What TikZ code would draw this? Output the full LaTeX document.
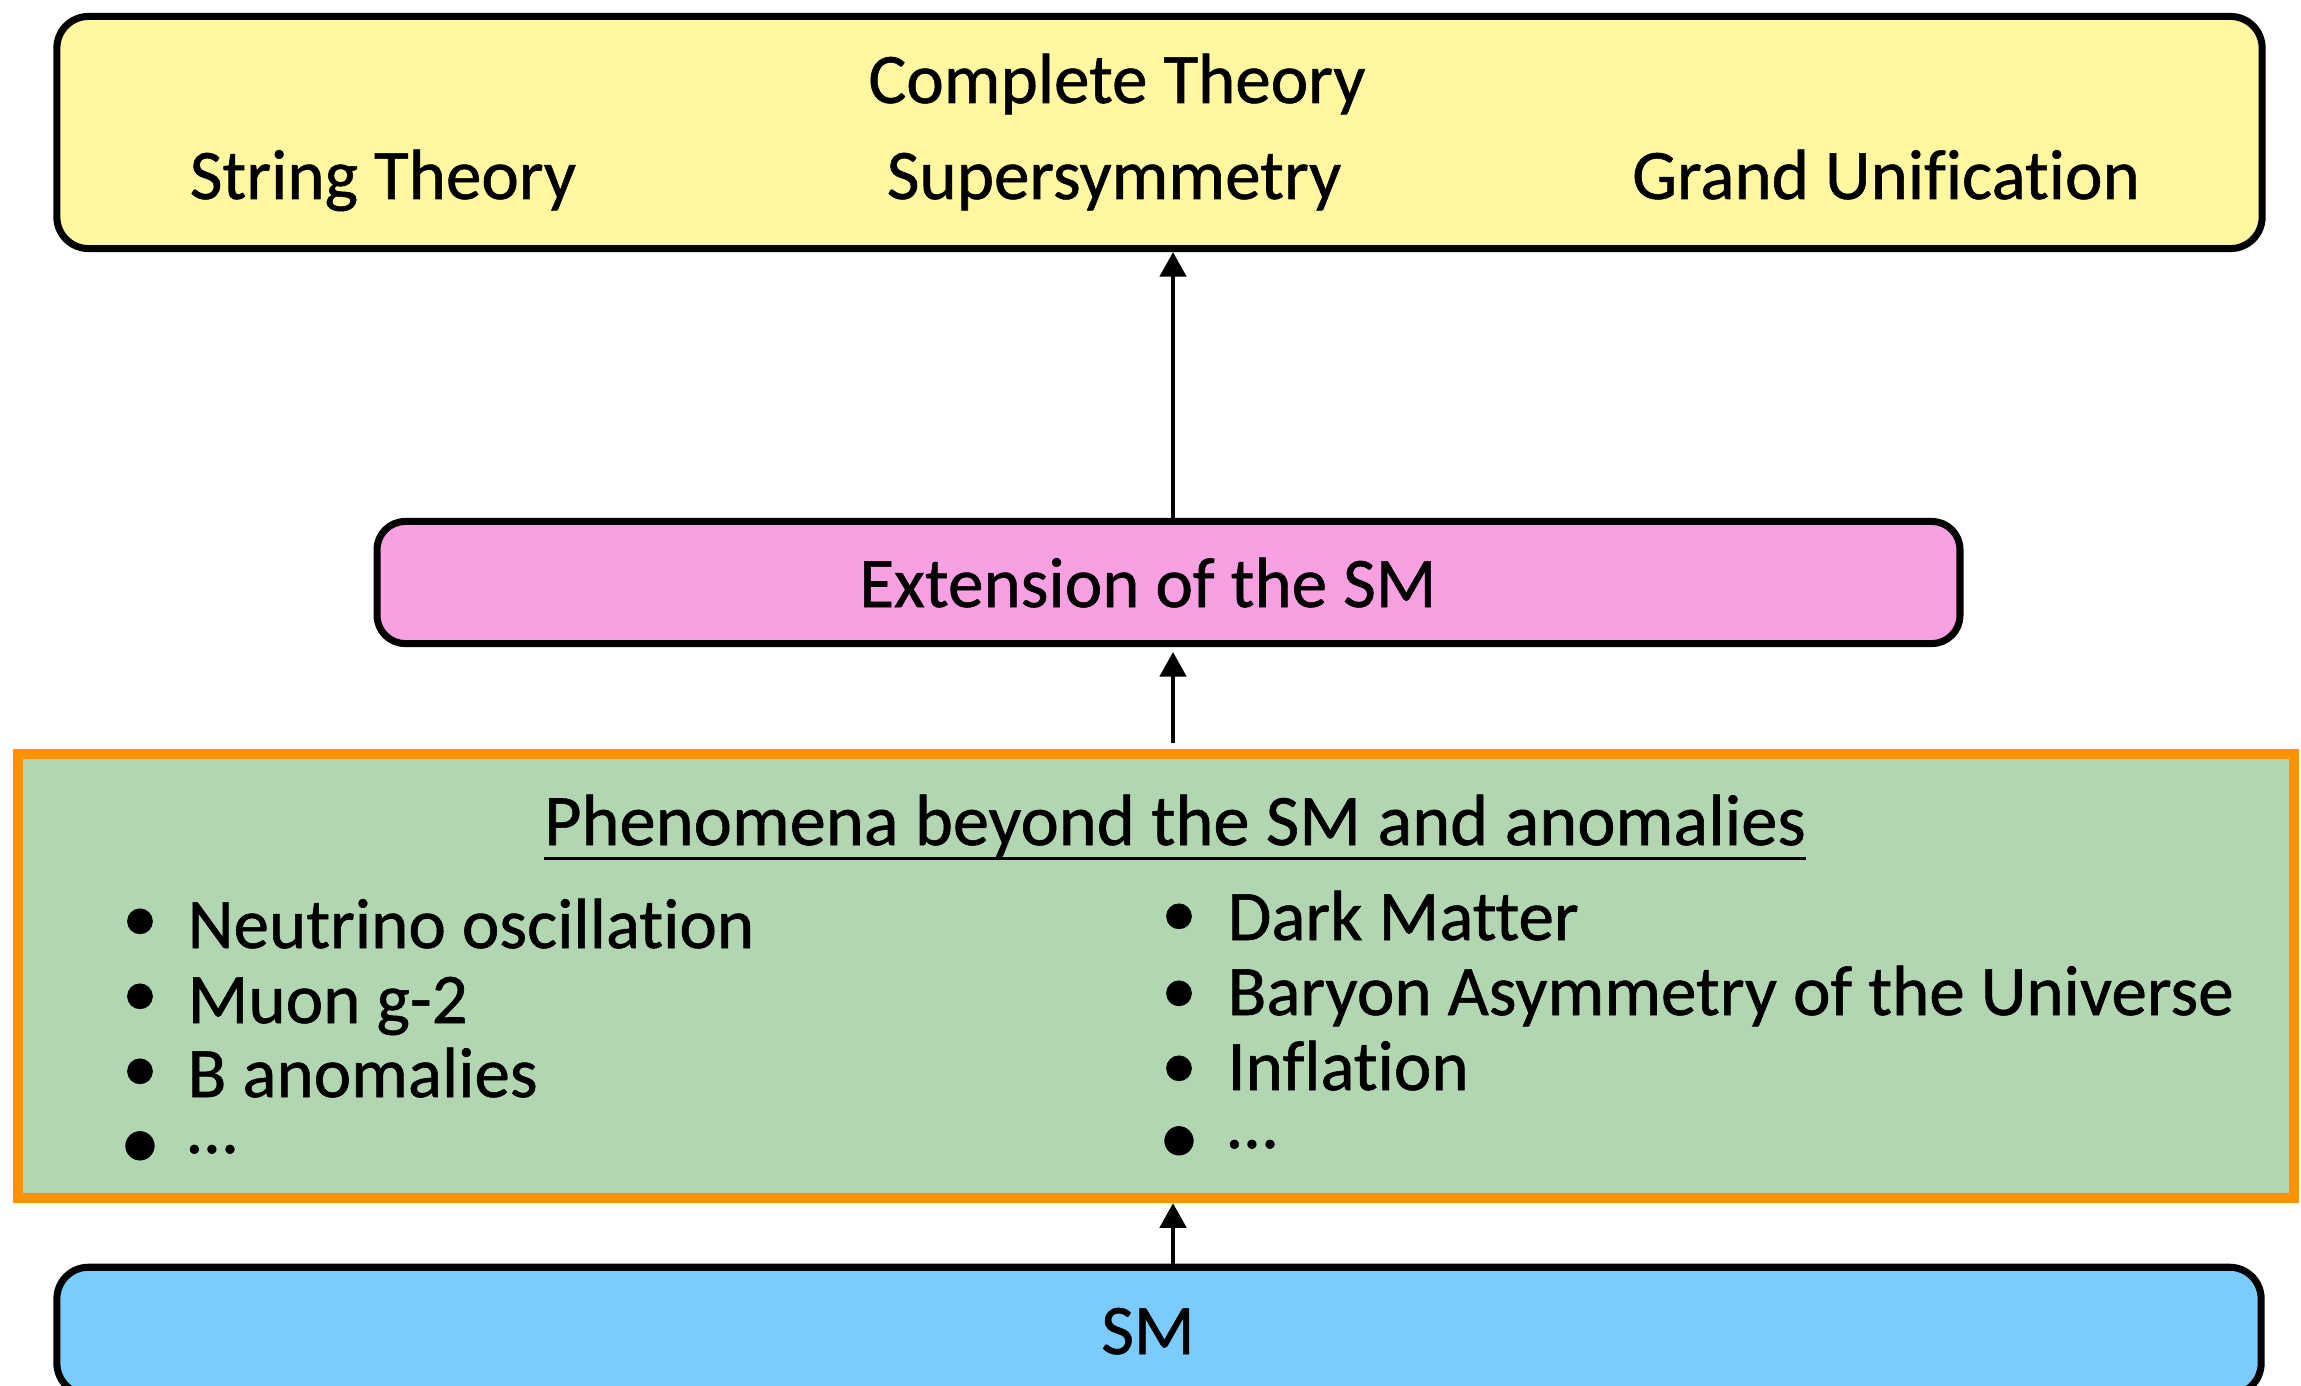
\documentclass[tikz,border=0pt]{standalone}
\usepackage{fontspec}
\setmainfont{Carlito}[Ligatures=NoCommon,FakeBold=0.8]
\newcommand\titleline[1]{\setbox0\hbox{#1}\rlap{\rule[-4.2pt]{\wd0}{0.9pt}}\box0}
\usetikzlibrary{arrows.meta,positioning,calc}
\definecolor{theoryyellow}{RGB}{255,248,160}
\definecolor{extpink}{RGB}{248,160,226}
\definecolor{phenogreen}{RGB}{178,214,178}
\definecolor{phenoorange}{RGB}{255,146,0}
\definecolor{smblue}{RGB}{123,203,252}

\begin{document}
\begin{tikzpicture}[x=0.01cm,y=-0.01cm,>={Triangle[width=7.4pt,length=7pt]},
 box/.style={draw,line width=2pt,rounded corners=9pt,inner sep=0pt},
 lbl/.style={font=\fontsize{20.2}{24}\selectfont,inner sep=0pt},
 item/.style={lbl,anchor=base west},
 bul/.style={lbl,anchor=center},
 bigbul/.style={inner sep=0pt,anchor=center,font=\fontsize{23}{23}\selectfont},
 arr/.style={->,line width=1.3pt}]
\useasboundingbox (0,0) rectangle (2301,1385);
\coordinate (axis) at (1173,0);
% boxes
\node[box,fill=theoryyellow,minimum width=22.04cm,minimum height=2.32cm] (theory) at (1159.5,132.5) {};
\node[box,fill=extpink,rounded corners=8pt,minimum width=15.82cm,minimum height=1.22cm] (ext) at (1168.5,582.5) {};
\node[draw=phenoorange,fill=phenogreen,line width=2.85pt,inner sep=0pt,minimum width=22.74cm,minimum height=4.44cm] (pheno) at (1156,976) {};
\node[box,fill=smblue,minimum width=22.03cm,minimum height=1.275cm] (sm) at (1159,1331) {};
% texts
\node[lbl,anchor=base] (complete) at (1117,103) {Complete Theory};
\node[lbl,anchor=base] (string) at (383,199) {String Theory};
\node[lbl,anchor=base] (susy) at (1114,199) {Supersymmetry};
\node[lbl,anchor=base] (gut) at (1886,199) {Grand Unification};
\node[lbl,anchor=base] (exttxt) at (1148,607) {Extension of the SM};
\node[lbl,anchor=base,font=\fontsize{20.6}{24}\selectfont] (phtitle) at (1175,845) {\titleline{Phenomena beyond the SM and anomalies}};
\node[lbl,anchor=base] (smtxt) at (1148,1354) {SM};
% left list
\node[bul] (bl1) at (140,925) {•};
\node[bul] (bl2) at (140,1000) {•};
\node[bul] (bl3) at (140,1075) {•};
\node[bigbul] (bl4) at (140,1150) {•};
\node[item] (nu) at (187,948) {Neutrino oscillation};
\node[item] (muon) at (187,1023) {Muon g-2};
\node[item] (banom) at (187,1097) {B anomalies};
\node[item] (ldots) at (187,1153) {…};
% right list
\node[bul] (br1) at (1179,920) {•};
\node[bul] (br2) at (1179,997) {•};
\node[bul] (br3) at (1179,1072) {•};
\node[bigbul] (br4) at (1179,1145) {•};
\node[item] (dm) at (1227,940) {Dark Matter};
\node[item] (bau) at (1227,1015) {Baryon Asymmetry of the Universe};
\node[item] (infl) at (1227,1090) {Inflation};
\node[item] (rdots) at (1227,1148) {…};
% arrows
\draw[arr] (ext.north -| axis) -- (theory.south -| axis);
\draw[arr,shorten <=1.7pt,shorten >=1.4pt] (pheno.north -| axis) -- (ext.south -| axis);
\draw[arr] (sm.north -| axis) -- (pheno.south -| axis);
\end{tikzpicture}
\end{document}
